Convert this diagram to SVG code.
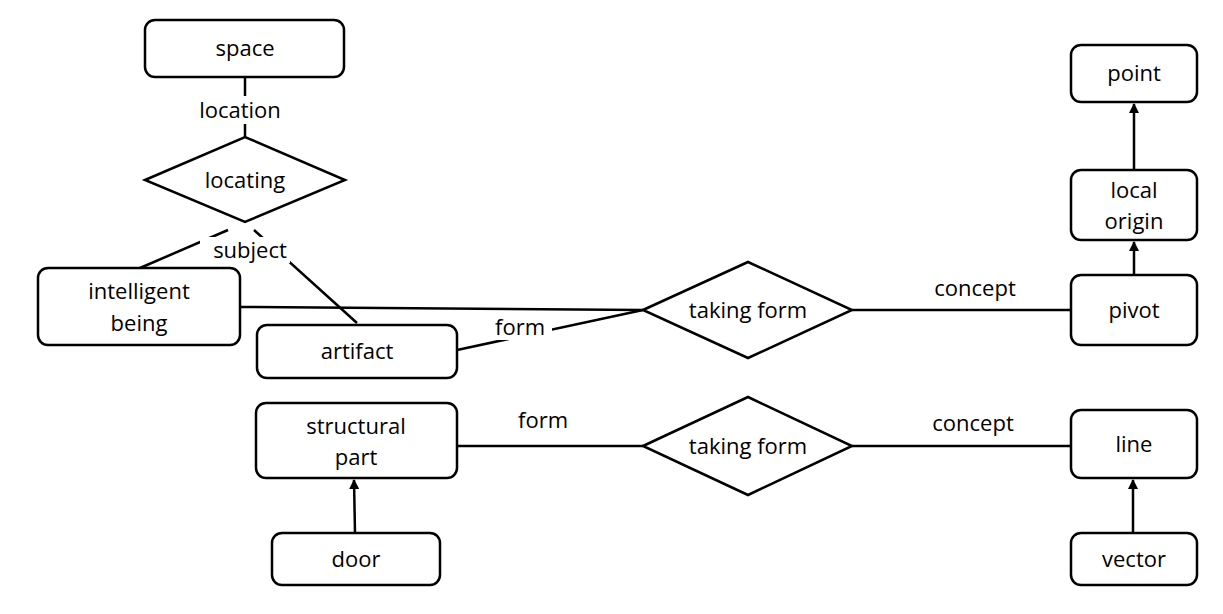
<svg xmlns="http://www.w3.org/2000/svg" width="1223" height="614" viewBox="0 0 1223 614">
<style>
.n{fill:#fff;stroke:#000;stroke-width:2.5}
.t{font-family:"Open Sans","Liberation Sans",sans-serif;font-size:22px;text-anchor:middle;fill:#000}
.c{stroke:#000;stroke-width:2.5;fill:none}
.bg{fill:#fff}
</style>
<defs><marker id="a" markerWidth="10" markerHeight="10" refX="9" refY="5" orient="auto" markerUnits="userSpaceOnUse"><path d="M0,0 L10,5 L0,10 z" fill="#000"/></marker></defs>
<rect width="1223" height="614" fill="#fff"/>
<g id="connectors">
<line class="c" x1="245" y1="77" x2="245" y2="137"/>
<line class="c" x1="140" y1="268" x2="228" y2="230"/>
<line class="c" x1="254" y1="230" x2="357" y2="323"/>
<line class="c" x1="240" y1="307" x2="643" y2="310"/>
<polyline class="c" points="457,350 643,310"/>
<line class="c" x1="852" y1="310" x2="1071" y2="310"/>
<line class="c" x1="1134" y1="275" x2="1134" y2="242" marker-end="url(#a)"/>
<line class="c" x1="1134" y1="170" x2="1134" y2="104" marker-end="url(#a)"/>
<line class="c" x1="457" y1="446" x2="643" y2="446"/>
<line class="c" x1="852" y1="446" x2="1071" y2="446"/>
<line class="c" x1="355" y1="533" x2="354" y2="480" marker-end="url(#a)"/>
<line class="c" x1="1133" y1="533" x2="1133" y2="480" marker-end="url(#a)"/>
<rect class="bg" x="188" y="96" width="104" height="28"/>
<text class="t" x="240" y="118">location</text>
<rect class="bg" x="200" y="237" width="90" height="26"/>
<text class="t" x="250" y="258">subject</text>
<rect class="bg" x="490" y="314" width="62" height="26"/>
<text class="t" x="520" y="335">form</text>
<text class="t" x="975" y="296">concept</text>
<text class="t" x="543" y="428">form</text>
<text class="t" x="973" y="431">concept</text>
</g>
<g id="space"><rect class="n" x="145" y="20" width="199" height="57" rx="10"/><text class="t" x="245" y="56">space</text></g>
<g id="locating"><polygon class="n" points="145,180 245,137 345,180 245,222"/><text class="t" x="245" y="188">locating</text></g>
<g id="intelligent-being"><rect class="n" x="38" y="268" width="202" height="77" rx="10"/><text class="t" x="139" y="299">intelligent</text><text class="t" x="139" y="331">being</text></g>
<g id="artifact"><rect class="n" x="257" y="325" width="200" height="53" rx="10"/><text class="t" x="357" y="359">artifact</text></g>
<g id="taking-form-1"><polygon class="n" points="643,310 748,262 852,310 748,358"/><text class="t" x="748" y="318">taking form</text></g>
<g id="pivot"><rect class="n" x="1071" y="275" width="126" height="70" rx="10"/><text class="t" x="1134" y="318">pivot</text></g>
<g id="local-origin"><rect class="n" x="1071" y="170" width="126" height="70" rx="10"/><text class="t" x="1134" y="198">local</text><text class="t" x="1134" y="229">origin</text></g>
<g id="point"><rect class="n" x="1071" y="45" width="126" height="57" rx="10"/><text class="t" x="1134" y="81">point</text></g>
<g id="structural-part"><rect class="n" x="256" y="403" width="201" height="75" rx="10"/><text class="t" x="356" y="434">structural</text><text class="t" x="356" y="465">part</text></g>
<g id="taking-form-2"><polygon class="n" points="643,446 748,397 852,446 748,495"/><text class="t" x="748" y="454">taking form</text></g>
<g id="line"><rect class="n" x="1071" y="410" width="126" height="68" rx="10"/><text class="t" x="1134" y="452">line</text></g>
<g id="door"><rect class="n" x="272" y="533" width="168" height="52" rx="10"/><text class="t" x="356" y="567">door</text></g>
<g id="vector"><rect class="n" x="1071" y="533" width="126" height="52" rx="10"/><text class="t" x="1134" y="567">vector</text></g>
</svg>
